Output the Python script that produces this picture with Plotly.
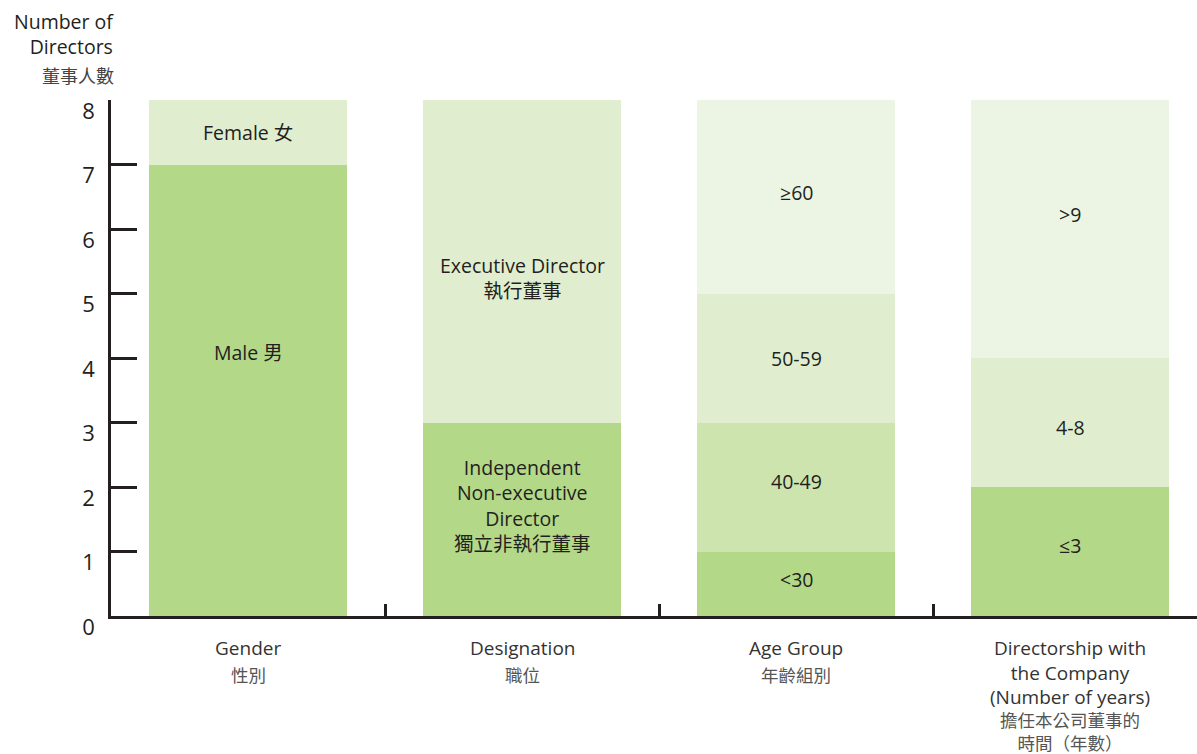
import plotly.graph_objects as go

# ---- data ----
categories = ["Gender", "Designation", "Age Group", "Directorship"]

gender_labels = ["Male 男", "Female 女"]
gender_values = [7, 1]

designation_labels = ["Independent<br>Non-executive<br>Director<br>獨立非執行董事", "Executive Director<br>執行董事"]
designation_values = [3, 5]

age_labels = ["<30", "40-49", "50-59", "≥60"]
age_values = [1, 2, 2, 3]

tenure_labels = ["≤3", "4-8", ">9"]
tenure_values = [2, 2, 4]

category_titles_en = ["Gender", "Designation", "Age Group",
                      "Directorship with<br>the Company<br>(Number of years)"]
category_titles_zh = ["性別", "職位", "年齡組別", "擔任本公司董事的<br>時間（年數）"]

y_ticks = [0, 1, 2, 3, 4, 5, 6, 7, 8]

# ---- styling ----
DARK = "#b3d888"
MID = "#cde4ae"
LIGHT = "#e0eecf"
LIGHTEST = "#ecf5e3"
TXT = "#231f20"
FONT = "Open Sans, Noto Sans CJK TC, sans-serif"

W, H = 1197, 754
M_T, M_B = 100, 138.3
PLOT_H = H - M_T - M_B


def ypaper(py):
    """pixel row -> paper coordinate"""
    return (H - M_B - py) / PLOT_H


groups = [
    (categories[0], gender_labels, gender_values, [DARK, LIGHT], [4.09, 7.49]),
    (categories[1], designation_labels, designation_values, [DARK, LIGHT], [1.72, 5.24]),
    (categories[2], age_labels, age_values, [DARK, MID, LIGHT, LIGHTEST], [0.57, 2.09, 4.0, 6.57]),
    (categories[3], tenure_labels, tenure_values, [DARK, LIGHT, LIGHTEST], [1.09, 2.93, 6.22]),
]

fig = go.Figure()
annotations = []
for ci, (cat, labels, values, colors, label_y) in enumerate(groups):
    for lab, val, col, ly in zip(labels, values, colors, label_y):
        fig.add_trace(go.Bar(
            x=[ci], y=[val], marker=dict(color=col, line=dict(width=0)),
            width=0.7226, showlegend=False, hoverinfo="skip",
        ))
        annotations.append(dict(
            x=ci, y=ly, xref="x", yref="y", text=lab, showarrow=False,
            font=dict(family=FONT, size=19.5, color=TXT), align="center",
        ))

# category labels below axis
for ci, (en, zh) in enumerate(zip(category_titles_en, category_titles_zh)):
    annotations.append(dict(
        x=ci, y=ypaper(633), xref="x", yref="paper", text=en, showarrow=False,
        yanchor="top", align="center", font=dict(family=FONT, size=19, color="#333"),
    ))
    n_en = en.count("<br>") + 1
    zh_top = 660.5 + 22.75 * (n_en - 1)
    annotations.append(dict(
        x=ci, y=ypaper(zh_top), xref="x", yref="paper", text=zh, showarrow=False,
        yanchor="top", align="center", font=dict(family=FONT, size=17.5, color="#555"),
    ))

# y-axis title
annotations.append(dict(
    x=0.0046, y=ypaper(34), xref="paper", yref="paper", text="Number of<br>Directors",
    showarrow=False, xanchor="right", yanchor="middle", align="right",
    font=dict(family=FONT, size=19.5, color=TXT),
))
annotations.append(dict(
    x=0.0046, y=ypaper(76), xref="paper", yref="paper", text="董事人數",
    showarrow=False, xanchor="right", yanchor="middle", align="right",
    font=dict(family=FONT, size=18, color="#444"),
))

fig.update_layout(
    barmode="stack",
    width=W, height=H,
    margin=dict(l=111, r=0, t=M_T, b=M_B, pad=0),
    plot_bgcolor="white", paper_bgcolor="white",
    annotations=annotations,
    bargap=0,
)
fig.update_xaxes(
    range=[-0.5, 3.4635], showgrid=False, zeroline=False,
    showline=True, linewidth=3, linecolor=TXT,
    tickmode="array", tickvals=[0.5, 1.5, 2.5], showticklabels=False,
    ticks="inside", ticklen=12, tickwidth=2.5, tickcolor=TXT,
)
fig.update_yaxes(
    range=[0, 8], showgrid=False, zeroline=False,
    showline=True, linewidth=2.5, linecolor=TXT,
    tickmode="array", tickvals=y_ticks,
    ticks="inside", ticklen=26, tickwidth=2.5, tickcolor=TXT,
    tickfont=dict(family=FONT, size=22, color=TXT),
    ticklabelstandoff=9, ticklabelshift=11,
)

fig.write_html("out.html")
